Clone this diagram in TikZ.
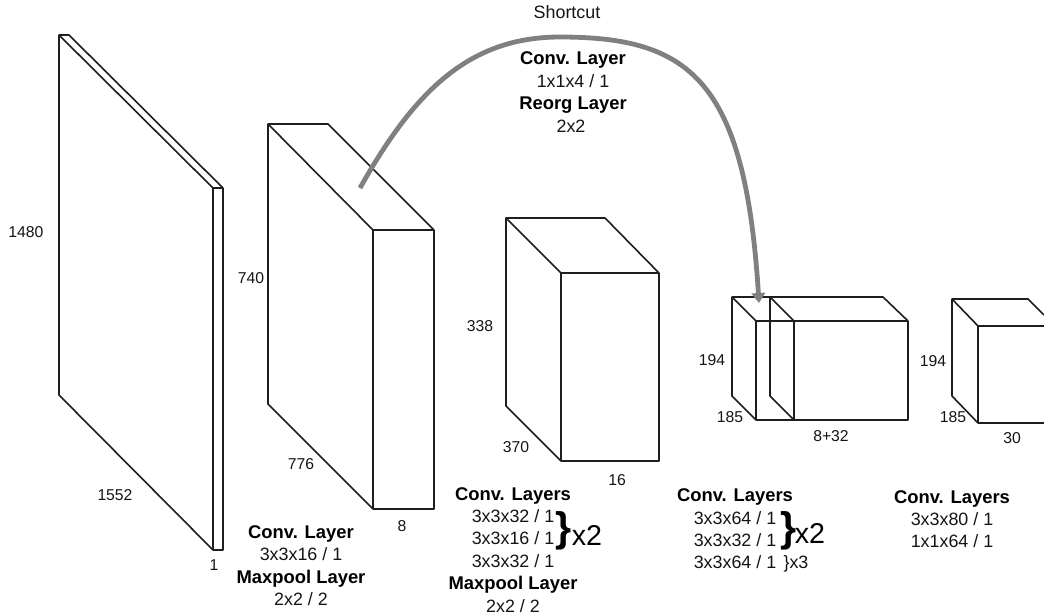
\documentclass[tikz,border=0pt]{standalone}
\usepackage{fontspec}
\setmainfont{Liberation Sans}
\usetikzlibrary{arrows.meta}
\definecolor{edgeink}{RGB}{30,30,30}
\definecolor{txtink}{RGB}{20,20,20}
\definecolor{shortcutgrey}{RGB}{128,128,128}
\tikzset{
  boxline/.style={draw=edgeink,line width=1.2pt,line join=round},
  dimlabel/.style={inner sep=0pt,text=txtink,font=\fontsize{11.8pt}{14pt}\selectfont,text height=8.5pt,text depth=0pt},
  cfg/.style={inner sep=0pt,text=txtink,font=\fontsize{13.4pt}{16pt}\selectfont,text height=9.6pt,text depth=0pt},
  cfghead/.style={inner sep=0pt,text=black,font=\fontsize{13.8pt}{16pt}\selectfont\bfseries,text height=9.9pt,text depth=0pt},
  bigbrace/.style={inner sep=0pt,text=black,font=\fontsize{31pt}{34pt}\selectfont\bfseries},
  times/.style={inner sep=0pt,text=black,font=\fontsize{21.5pt}{24pt}\selectfont,text height=15.4pt,text depth=0pt},
  shortcutline/.style={draw=shortcutgrey,line width=3.6pt,-{Triangle[width=10pt,length=7.5pt,fill=shortcutgrey]}}
}
\begin{document}
\begin{tikzpicture}[x=0.75pt,y=-0.75pt]
\useasboundingbox (0,0) rectangle (1044,615);
% slab 1
\draw[boxline] (59,35) -- (59,395) -- (213,550) -- (213,188) -- cycle;
\draw[boxline] (59,35) -- (69,35) -- (223,188) -- (213,188);
\draw[boxline] (223,188) -- (223,550) -- (213,550);
% slab 2
\draw[boxline] (268,124) -- (268,404) -- (373,509) -- (373,230) -- cycle;
\draw[boxline] (268,124) -- (328,124) -- (434,230) -- (373,230);
\draw[boxline] (434,230) -- (434,509) -- (373,509);
% cube 3
\draw[boxline] (506,218) -- (506,406) -- (561,461) -- (561,273) -- cycle;
\draw[boxline] (506,218) -- (605,218) -- (659,273) -- (561,273);
\draw[boxline] (659,273) -- (659,461) -- (561,461);
% cube 4
\draw[boxline] (732,297) -- (732,396) -- (756,420) -- (756,321) -- cycle;
\draw[boxline] (732,297) -- (883,297) -- (908,321) -- (756,321);
\draw[boxline] (908,321) -- (908,420) -- (756,420);
\draw[boxline] (770,297) -- (770,396) -- (794,420) -- (794,321) -- cycle;
% cube 5
\draw[boxline] (952,299) -- (952,396) -- (978,423) -- (978,326) -- cycle;
\draw[boxline] (952,299) -- (1028,299) -- (1044,315);
\draw[boxline] (978,326) -- (1044,326);
\draw[boxline] (978,423) -- (1044,423);
% shortcut
\coordinate (scstart) at (360,188);
\coordinate (sctop) at (560,37);
\coordinate (scend) at (759,303);
\draw[shortcutline] (scstart) .. controls (415,90) and (470,37) .. (sctop)
  .. controls (690,37) and (745,80) .. (scend);
% dimension labels
\node[dimlabel] (d1480) at (26,232) {1480};
\node[dimlabel] (d1552) at (115,495) {1552};
\node[dimlabel] (d1) at (214,565) {1};
\node[dimlabel] (d740) at (251,278) {740};
\node[dimlabel] (d776) at (301,464) {776};
\node[dimlabel] (d8) at (402,526) {8};
\node[dimlabel] (d338) at (480,326) {338};
\node[dimlabel] (d370) at (516,447) {370};
\node[dimlabel] (d16) at (617,480) {16};
\node[dimlabel] (d194a) at (712,360) {194};
\node[dimlabel] (d185a) at (730,417) {185};
\node[dimlabel] (d832) at (831,436) {8+32};
\node[dimlabel] (d194b) at (933,361) {194};
\node[dimlabel] (d185b) at (953,417) {185};
\node[dimlabel] (d30) at (1012,438) {30};
% shortcut texts
\node[cfg] (sc) at (567,12) {Shortcut};
\node[cfghead] (sc1) at (573,58) {Conv. Layer};
\node[cfg] (sc2) at (573,81) {1x1x4 / 1};
\node[cfghead] (sc3) at (573,103) {Reorg Layer};
\node[cfg] (sc4) at (571,126) {2x2};
% block 2
\node[cfghead] (a1) at (301,532) {Conv. Layer};
\node[cfg] (a2) at (301,554) {3x3x16 / 1};
\node[cfghead] (a3) at (301,577) {Maxpool Layer};
\node[cfg] (a4) at (301,599) {2x2 / 2};
% block 3
\node[cfghead] (b1) at (513,494) {Conv. Layers};
\node[cfg] (b2) at (513,516) {3x3x32 / 1};
\node[cfg] (b3) at (513,538) {3x3x16 / 1};
\node[cfg] (b4) at (513,561) {3x3x32 / 1};
\node[cfghead] (b5) at (513,583) {Maxpool Layer};
\node[cfg] (b6) at (513,606) {2x2 / 2};
\node[bigbrace] (b7) at (564,531) {\}};
\node[times] (b8) at (587,535) {x2};
% block 4
\node[cfghead] (c1) at (735,495) {Conv. Layers};
\node[cfg] (c2) at (735,518) {3x3x64 / 1};
\node[cfg] (c3) at (735,540) {3x3x32 / 1};
\node[cfg] (c4) at (735,562) {3x3x64 / 1};
\node[bigbrace] (c5) at (789,531) {\}};
\node[times] (c6) at (810,533) {x2};
\node[cfg] (c7) at (796,562) {\}x3};
% block 5
\node[cfghead] (e1) at (952,497) {Conv. Layers};
\node[cfg] (e2) at (952,519) {3x3x80 / 1};
\node[cfg] (e3) at (952,541) {1x1x64 / 1};
\end{tikzpicture}
\end{document}
